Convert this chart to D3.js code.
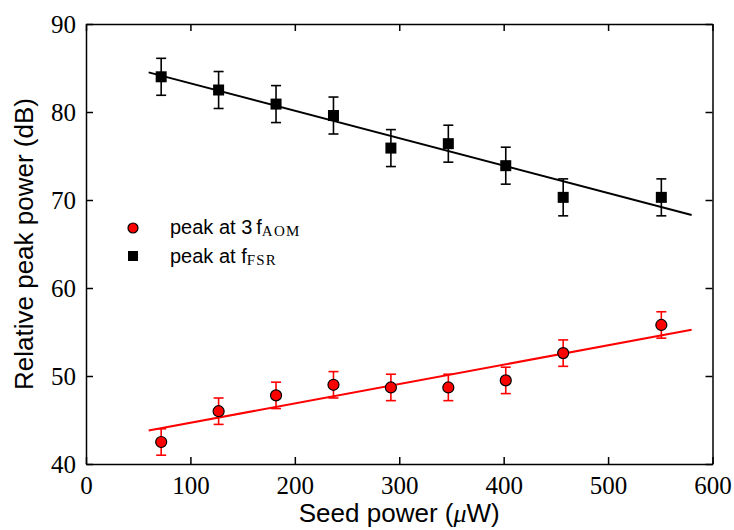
<!DOCTYPE html>
<html>
<head>
<meta charset="utf-8">
<script src="https://cdn.jsdelivr.net/npm/d3@7/dist/d3.min.js"></script>
<style>
  html, body { margin: 0; padding: 0; background: #fff; }
  svg { display: block; }
</style>
</head>
<body>
<svg id="chart" width="734" height="530"></svg>
<script>
// ---- data ----
const seedPower = [72, 127, 182, 237, 292, 347, 402, 457, 551];
const peakFSR = [84.0, 82.5, 80.9, 79.6, 75.9, 76.4, 73.9, 70.3, 70.3];
const errFSR = [2.1, 2.1, 2.1, 2.1, 2.1, 2.1, 2.1, 2.1, 2.1];
const peakAOM = [42.5, 46.0, 47.8, 49.0, 48.7, 48.7, 49.5, 52.6, 55.8];
const errAOM = [1.5, 1.5, 1.5, 1.5, 1.5, 1.5, 1.5, 1.5, 1.5];
const fitX = [60, 580];
const fitFSR = [84.5, 68.3];
const fitAOM = [43.8, 55.25];
const xTicks = [0, 100, 200, 300, 400, 500, 600];
const yTicks = [40, 50, 60, 70, 80, 90];

// ---- layout ----
const svg = d3.select("#chart");
const L = 86, R = 712.5, T = 24, B = 464;
const x = d3.scaleLinear().domain([0, 600]).range([L, R]);
const y = d3.scaleLinear().domain([40, 90]).range([B, T]);
const tickFont = "'Liberation Serif', 'Times New Roman', serif";
const sansFont = "'Liberation Sans', Arial, Helvetica, sans-serif";

// axes (inward ticks, mirrored)
const tl = 7;
function styleAxis(g) {
  g.selectAll("path.domain").attr("stroke", "#000").attr("stroke-width", 1.5);
  g.selectAll(".tick line").attr("stroke", "#000").attr("stroke-width", 1.5);
  g.selectAll(".tick text").attr("font-family", tickFont).attr("font-size", 25).attr("fill", "#000");
}
const xb = svg.append("g").attr("transform", `translate(0,${B})`)
  .call(d3.axisBottom(x).tickValues(xTicks).tickSizeInner(-tl).tickSizeOuter(0).tickPadding(12));
styleAxis(xb);
xb.selectAll(".tick text").attr("dy", "0.71em");
const xt = svg.append("g").attr("transform", `translate(0,${T})`)
  .call(d3.axisTop(x).tickValues(xTicks).tickSizeInner(-tl).tickSizeOuter(0).tickFormat(""));
styleAxis(xt);
const yl = svg.append("g").attr("transform", `translate(${L},0)`)
  .call(d3.axisLeft(y).tickValues(yTicks).tickSizeInner(-tl).tickSizeOuter(0).tickPadding(10));
styleAxis(yl);
const yr = svg.append("g").attr("transform", `translate(${R},0)`)
  .call(d3.axisRight(y).tickValues(yTicks).tickSizeInner(-tl).tickSizeOuter(0).tickFormat(""));
styleAxis(yr);

// fit lines
const line = d3.line().x(d => x(d[0])).y(d => y(d[1]));
svg.append("path").datum(fitX.map((v, i) => [v, fitFSR[i]]))
  .attr("d", line).attr("stroke", "#000").attr("stroke-width", 2).attr("fill", "none");
svg.append("path").datum(fitX.map((v, i) => [v, fitAOM[i]]))
  .attr("d", line).attr("stroke", "#ff0000").attr("stroke-width", 2).attr("fill", "none");

// error bars
function errorBars(vals, errs, color) {
  const g = svg.append("g").attr("stroke", color).attr("stroke-width", 1.6).attr("fill", "none");
  seedPower.forEach((sx, i) => {
    const cx = x(sx), y1 = y(vals[i] + errs[i]), y2 = y(vals[i] - errs[i]);
    g.append("line").attr("x1", cx).attr("x2", cx).attr("y1", y1).attr("y2", y2);
    g.append("line").attr("x1", cx - 5).attr("x2", cx + 5).attr("y1", y1).attr("y2", y1);
    g.append("line").attr("x1", cx - 5).attr("x2", cx + 5).attr("y1", y2).attr("y2", y2);
  });
}
errorBars(peakFSR, errFSR, "#000");
errorBars(peakAOM, errAOM, "#ff0000");

// markers
const s = 11;
svg.append("g").selectAll("rect").data(seedPower).join("rect")
  .attr("x", (d) => x(d) - s / 2).attr("y", (d, i) => y(peakFSR[i]) - s / 2)
  .attr("width", s).attr("height", s).attr("fill", "#000");
svg.append("g").selectAll("circle").data(seedPower).join("circle")
  .attr("cx", d => x(d)).attr("cy", (d, i) => y(peakAOM[i])).attr("r", 5.5)
  .attr("fill", "#ff0000").attr("stroke", "#000").attr("stroke-width", 1.2);

// legend
svg.append("circle").attr("cx", 133).attr("cy", 228).attr("r", 5)
  .attr("fill", "#ff0000").attr("stroke", "#000").attr("stroke-width", 1.2);
svg.append("rect").attr("x", 133 - 5).attr("y", 256 - 5).attr("width", 10).attr("height", 10).attr("fill", "#000");
const lt1 = svg.append("text").attr("x", 170).attr("y", 234).attr("font-family", sansFont).attr("font-size", 20);
lt1.append("tspan").text("peak at 3\u2009f");
lt1.append("tspan").attr("font-family", tickFont).attr("font-size", 15).attr("letter-spacing", 1.2).attr("dy", 2).text("AOM");
const lt2 = svg.append("text").attr("x", 170).attr("y", 263).attr("font-family", sansFont).attr("font-size", 20);
lt2.append("tspan").text("peak at f");
lt2.append("tspan").attr("font-family", tickFont).attr("font-size", 15).attr("letter-spacing", 1.2).attr("dy", 2).text("FSR");

// axis labels
const xl = svg.append("text").attr("x", (L + R) / 2).attr("y", 522).attr("text-anchor", "middle")
  .attr("font-family", sansFont).attr("font-size", 26);
xl.append("tspan").text("Seed power (");
xl.append("tspan").attr("font-family", tickFont).attr("font-style", "italic").text("\u03bc");
xl.append("tspan").text("W)");
svg.append("text").attr("transform", `translate(33,${(T + B) / 2}) rotate(-90)`)
  .attr("text-anchor", "middle").attr("font-family", sansFont).attr("font-size", 26)
  .text("Relative peak power (dB)");
</script>
</body>
</html>
